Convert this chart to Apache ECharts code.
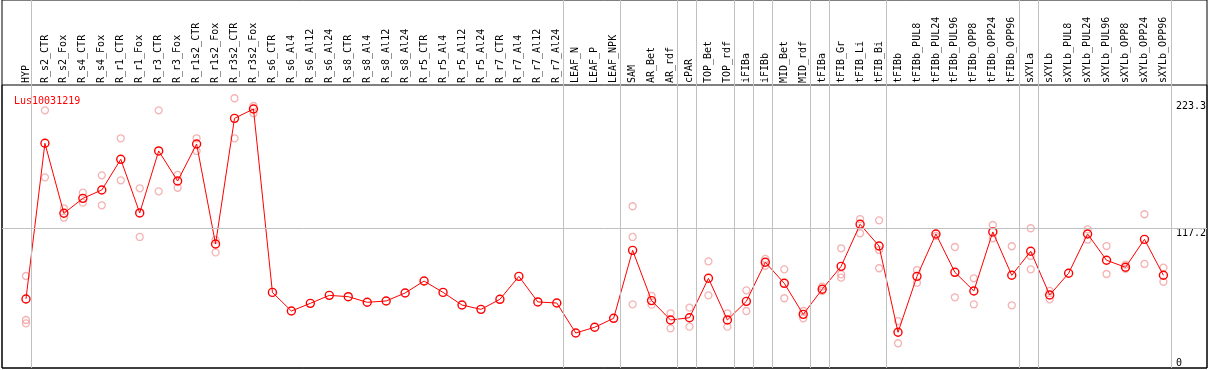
<!DOCTYPE html>
<html><head><meta charset="utf-8">
<script src="https://cdn.jsdelivr.net/npm/echarts@6/dist/echarts.min.js"></script>
<style>html,body{margin:0;padding:0;background:#fff}#c{width:1209px;height:370px}</style>
</head><body><div id="c"></div>
<script>
const chartTitle = 'Lus10031219';
const categories = ['HYP','R_s2_CTR','R_s2_Fox','R_s4_CTR','R_s4_Fox','R_r1_CTR','R_r1_Fox','R_r3_CTR','R_r3_Fox','R_r1s2_CTR','R_r1s2_Fox','R_r3s2_CTR','R_r3s2_Fox','R_s6_CTR','R_s6_Al4','R_s6_Al12','R_s6_Al24','R_s8_CTR','R_s8_Al4','R_s8_Al12','R_s8_Al24','R_r5_CTR','R_r5_Al4','R_r5_Al12','R_r5_Al24','R_r7_CTR','R_r7_Al4','R_r7_Al12','R_r7_Al24','LEAF_N','LEAF_P','LEAF_NPK','SAM','AR_Bet','AR_rdf','cPAR','TOP_Bet','TOP_rdf','iFIBa','iFIBb','MID_Bet','MID_rdf','tFIBa','tFIB_Gr','tFIB_Li','tFIB_Bi','tFIBb','tFIBb_PUL8','tFIBb_PUL24','tFIBb_PUL96','tFIBb_OPP8','tFIBb_OPP24','tFIBb_OPP96','sXYLa','sXYLb','sXYLb_PUL8','sXYLb_PUL24','sXYLb_PUL96','sXYLb_OPP8','sXYLb_OPP24','sXYLb_OPP96'];
const meanValues = [57.8,188.1,129.5,142.0,149.0,174.7,129.8,181.7,156.5,187.5,103.8,209.0,216.8,63.3,47.7,54.1,60.8,59.7,55.0,56.1,62.8,72.8,63.3,52.7,49.1,57.5,76.7,55.3,54.4,29.3,34.1,41.6,98.5,56.4,40.2,42.1,75.1,40.2,55.8,88.5,70.9,44.9,65.9,85.1,120.3,102.1,29.9,76.7,112.2,80.1,64.5,113.9,77.6,97.7,61.1,79.3,112.2,90.2,84.3,107.7,77.6];
const replicateValues = [
 [77.0,40.2,37.4],[215.7,159.6],[133.7,125.8],[146.8,138.4],[161.3,136.2],[192.3,157.1],[150.4,109.7],[215.7,147.9],[161.6,150.9],[192.3,181.7],[107.2,96.8],[225.8,192.3],[219.3,213.2],
 [],[],[],[],[],[],[],[],[],[],[],[],[],[],[],[],[],[],[],
 [135.4,109.7,53.3],[60.3,53.0],[45.8,33.2],[50.5,34.6],[89.3,60.8],[45.8,34.6],[65.0,47.7],[91.3,85.6],[82.6,58.4],[47.7,41.6],[68.1,64.5],[100.2,78.4,75.6],[124.7,112.8],[123.6,98.8,83.5],[39.3,20.7],
 [82.0,71.4],[110.5],[101.3,59.2],[75.1,53.3],[119.7,108.6],[101.9,52.5],[117.0,93.8,82.6],[64.5,57.5],[],[116.1,107.4],[102.1,78.7],[86.5,83.1],[128.7,87.1],[84.0,72.2]
];
const groupEnds = [-1,0,28,31,34,35,37,38,39,41,42,45,52,53,60];
const yTickLabels = [117.2,223.3];
const yZeroLabel = [0];
const yMax = 236.9;
const gridLineValue = 117.2;

const repData = [];
replicateValues.forEach((arr,i)=>arr.forEach(v=>repData.push([i,v])));
const sepOffset = 5/19;
const mono = 'DejaVu Sans Mono';

const chart = echarts.init(document.getElementById('c'));
chart.setOption({
  animation:false,
  backgroundColor:'#fff',
  title:{text:chartTitle,left:9,top:91,textStyle:{color:'#ff0000',fontSize:10,fontFamily:mono,fontWeight:'normal'}},
  grid:[
    {left:2,right:2,top:0,bottom:2,show:true,borderColor:'#000',borderWidth:1,backgroundColor:'transparent'},
    {left:2,right:2,top:85,bottom:2,show:true,borderColor:'#000',borderWidth:1,backgroundColor:'transparent'},
    {left:16.5,right:33.5,top:0,bottom:2},
    {left:16.5,right:33.5,top:85,bottom:2}
  ],
  xAxis:[
    {gridIndex:0,type:'value',show:false,min:0,max:1},
    {gridIndex:1,type:'value',show:false,min:0,max:1},
    {gridIndex:2,type:'value',show:false,min:-0.5,max:60.5},
    {gridIndex:3,type:'category',data:categories,position:'top',boundaryGap:true,
     axisLine:{show:false},axisTick:{show:false},splitLine:{show:false},
     axisLabel:{rotate:90,interval:0,margin:2,color:'#000',fontSize:10,fontFamily:mono}}
  ],
  yAxis:[
    {gridIndex:0,type:'value',show:false,min:0,max:1},
    {gridIndex:1,type:'value',show:false,min:0,max:yMax},
    {gridIndex:2,type:'value',show:false,min:0,max:1},
    {gridIndex:3,type:'value',min:0,max:yMax,position:'right',
     axisLine:{show:false},axisTick:{show:false},splitLine:{show:false},
     axisLabel:{customValues:yTickLabels,margin:3,align:'left',verticalAlign:'top',color:'#000',fontSize:10,fontFamily:mono,formatter:v=>String(v)}},
    {gridIndex:3,type:'value',min:0,max:yMax,position:'right',
     axisLine:{show:false},axisTick:{show:false},splitLine:{show:false},
     axisLabel:{customValues:yZeroLabel,margin:3,align:'left',verticalAlign:'bottom',color:'#000',fontSize:10,fontFamily:mono,formatter:v=>String(v)}}
  ],
  series:[
    {type:'line',xAxisIndex:1,yAxisIndex:1,data:[],z:1,silent:true,
     markLine:{silent:true,symbol:'none',label:{show:false},lineStyle:{color:'#c0c0c0',width:1,type:'solid'},
       data:[{yAxis:gridLineValue}]}},
    {type:'line',xAxisIndex:2,yAxisIndex:2,data:[],z:1,silent:true,
     markLine:{silent:true,symbol:'none',label:{show:false},lineStyle:{color:'#c0c0c0',width:1,type:'solid'},
       data:groupEnds.map(g=>({xAxis:g+sepOffset}))}},
    {type:'scatter',xAxisIndex:3,yAxisIndex:3,data:repData,z:3,symbol:'circle',symbolSize:7,
     itemStyle:{color:'rgba(0,0,0,0)',borderColor:'#f0a0a0',borderWidth:1.3}},
    {type:'line',xAxisIndex:3,yAxisIndex:3,data:meanValues,z:4,symbol:'circle',symbolSize:8,
     lineStyle:{color:'#ff0000',width:1},itemStyle:{color:'rgba(0,0,0,0)',borderColor:'#ff0000',borderWidth:1.4}}
  ]
});
</script></body></html>
